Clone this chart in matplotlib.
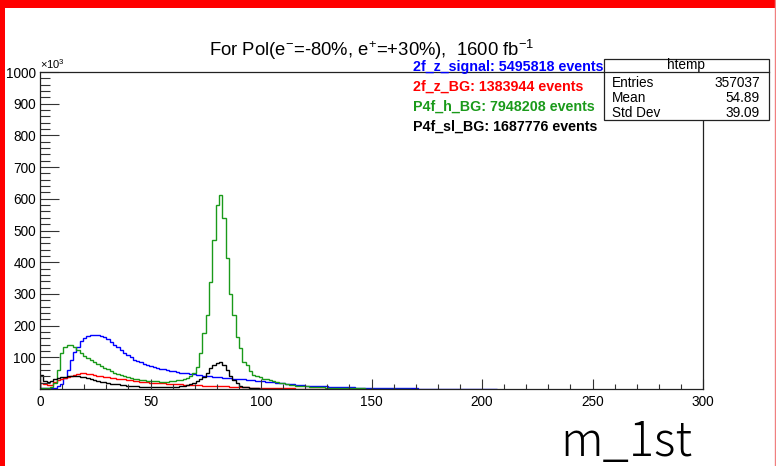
import numpy as np
import matplotlib
matplotlib.use("Agg")
import matplotlib.pyplot as plt
from matplotlib.patches import Rectangle
from matplotlib.lines import Line2D

# histogram bin width (x units), all series start at x = 0
bin_width = 1.5

# bin contents in units of 10^3 events
signal_2f_z = [2, 3, 2, 2, 4, 8, 15, 35, 60, 90,
               118, 133, 150, 160, 166, 169, 171, 170, 168, 163,
               157, 149, 140, 131, 123, 115, 107, 100, 93, 88,
               84, 80, 76, 73, 70, 67, 64, 62, 60, 58,
               56, 54, 52, 50, 49, 47, 46, 45, 44, 42,
               41, 40, 39, 38, 37, 36, 35, 34, 33, 32,
               31, 30, 29, 28, 27, 26, 25, 24, 23, 22,
               21, 20, 19, 18, 17, 16, 15, 14, 13, 12,
               11, 10.5, 10, 9.5, 9, 8.5, 8, 7.5, 7, 6.5,
               6, 6, 5.5, 5, 5, 4.5, 4.5, 4, 4, 3.5,
               3.5, 3, 3, 3, 2.5, 2.5, 2.5, 2, 2, 2,
               2, 1.8, 1.8, 1.6, 1.5, 1.5, 1.4, 1.3, 1.2, 1.1,
               1, 1, 0.9, 0.9, 0.8, 0.8, 0.7, 0.7, 0.6, 0.6,
               0.5, 0.5, 0.5, 0.4, 0.4, 0.4, 0.3, 0.3]

bg_2f_z = [18, 17, 13, 14, 22, 27, 31, 35, 38, 41,
           45, 47, 49, 49, 48, 46, 44, 42, 40, 38,
           37, 35, 34, 32, 31, 30, 28, 27, 26, 25,
           23, 22, 21, 20, 20, 19, 18, 18, 17, 17,
           16, 15, 15, 14, 14, 13, 13, 12, 12, 11,
           11, 10, 10, 9, 9, 8.5, 8, 7.5, 7, 6.5,
           6, 5.5, 5, 4.5, 4, 3.5, 3.2, 3, 2.8, 2.6,
           2.4, 2.2, 2, 1.9, 1.8, 1.7, 1.6, 1.5, 1.4, 1.3,
           1.2, 1.1, 1, 0.9, 0.8, 0.7, 0.6, 0.5]

bg_p4f_h = [2, 3, 3, 5, 20, 60, 115, 133, 139, 138,
            133, 124, 113, 105, 98, 90, 84, 78, 72, 67,
            62, 57, 52, 48, 44, 41, 38, 35, 32, 30,
            28, 27, 26, 25, 24, 24, 23, 23, 23, 24,
            25, 27, 29, 32, 36, 41, 50, 70, 115, 176,
            233, 337, 470, 580, 612, 538, 412, 299, 233, 165,
            128, 86, 76, 58, 44, 40, 38, 33, 30, 27,
            24, 22, 20, 18, 16, 14, 12.5, 11, 10, 9,
            8, 7, 6.5, 6, 5.5, 5, 4.5, 4, 3.5, 3.2,
            3, 2.8, 2.6, 2.4, 2.2, 2, 1.8, 1.6, 1.5, 1.4,
            1.3, 1.2, 1.1, 1, 0.9, 0.8, 0.7, 0.6, 0.5, 0.4,
            0.3, 0.2]

bg_p4f_sl = [45, 25, 23, 24, 30, 34, 37, 39, 40, 41,
             41, 40, 39, 37, 34, 31, 28, 26, 23, 21,
             19, 17, 16, 14.5, 13, 12, 11, 10, 9, 8,
             7.5, 7, 6.5, 6, 6, 5.5, 5.5, 5.5, 6, 6,
             6.5, 7, 8, 10, 12, 15, 19, 24, 31, 39,
             52, 65, 76, 83, 84, 76, 60, 40, 28, 18,
             11, 7, 5, 3.5, 2.5, 2, 1.5, 1.2, 1, 0.8,
             0.6, 0.4, 0.3]

labels = ["2f_z_signal: 5495818 events",
          "2f_z_BG: 1383944 events",
          "P4f_h_BG: 7948208 events",
          "P4f_sl_BG: 1687776 events"]

stat_names = ["Entries", "Mean", "Std Dev"]
stat_values = ["357037", "54.89", "39.09"]

colors = ["#0000ff", "#ff0000", "#1a9a1a", "#000000"]

W, H = 776, 466


def fx(px):
    return px / W


def fy(py):
    return 1 - py / H


plt.rcParams['font.family'] = ['Liberation Sans', 'DejaVu Sans']
plt.rcParams['mathtext.fontset'] = 'custom'
plt.rcParams['mathtext.rm'] = 'Liberation Sans'

fig = plt.figure(figsize=(W / 100, H / 100), dpi=100)
ax = fig.add_axes([fx(40), fy(389), fx(703) - fx(40), fy(72) - fy(389)])

series = [signal_2f_z, bg_2f_z, bg_p4f_h, bg_p4f_sl]
for vals, col in zip(series, colors):
    edges = np.arange(len(vals) + 1) * bin_width
    ax.stairs(vals, edges, color=col, linewidth=1.0, baseline=0)

ax.set_xlim(0, 300)
ax.set_ylim(0, 1000)
ax.set_xticks(range(0, 301, 50))
ax.set_xticks(range(0, 301, 10), minor=True)
ax.set_yticks(range(100, 1001, 100))
ax.set_yticks(range(0, 1001, 20), minor=True)
ax.tick_params(axis='both', which='both', direction='in', labelsize=9.8,
               color='#333333', width=0.8)
ax.tick_params(axis='y', which='major', length=14, pad=3)
ax.tick_params(axis='y', which='minor', length=7)
ax.tick_params(axis='x', which='major', length=7, pad=4)
ax.tick_params(axis='x', which='minor', length=3.5)
for sp in ax.spines.values():
    sp.set_linewidth(0.9)
    sp.set_color('#222222')

# axis exponent
fig.text(fx(40), fy(69), r"$\times$10$^3$", fontsize=8, ha='left', va='baseline')

# title
fig.text(fx(372), fy(50), "For Pol(e$^{-}$=-80%, e$^{+}$=+30%),  1600 fb$^{-1}$",
         fontsize=13.3, ha='center', va='center')

# coloured labels
for i, (lab, col) in enumerate(zip(labels, colors)):
    fig.text(fx(413), fy(67 + 20 * i), lab, color=col, fontsize=10.3,
             fontweight='bold', ha='left', va='center')

# stats box
fig.patches.append(Rectangle((fx(604), fy(120)), fx(769) - fx(604), fy(59) - fy(120),
                             transform=fig.transFigure, facecolor='white',
                             edgecolor='#222222', linewidth=0.9, zorder=5))
fig.lines.append(Line2D([fx(604), fx(769)], [fy(72), fy(72)], transform=fig.transFigure,
                        color='#222222', linewidth=0.9, zorder=6))
fig.text(fx(686), fy(65), "htemp", fontsize=9.8, ha='center', va='center', zorder=7)
for i, (n, v) in enumerate(zip(stat_names, stat_values)):
    fig.text(fx(612), fy(83 + 15 * i), n, fontsize=9.8, ha='left', va='center', zorder=7)
    fig.text(fx(760), fy(83 + 15 * i), v, fontsize=9.8, ha='right', va='center', zorder=7)

# variable name
fig.text(fx(560), fy(456), "m_1st", fontsize=34, ha='left', va='baseline',
         family=['Noto Sans CJK JP', 'DejaVu Sans'], fontweight='light')

# red frame of the screenshot
fig.patches.append(Rectangle((0, 0), fx(5), 1, transform=fig.transFigure,
                             facecolor='#ff0000', edgecolor='none'))
fig.patches.append(Rectangle((0, fy(8)), 1, fy(0) - fy(8), transform=fig.transFigure,
                             facecolor='#ff0000', edgecolor='none'))
fig.lines.append(Line2D([fx(775), fx(775)], [0, 1], transform=fig.transFigure,
                        color='#f08080', linewidth=1))

fig.savefig("out.png", dpi=100)
